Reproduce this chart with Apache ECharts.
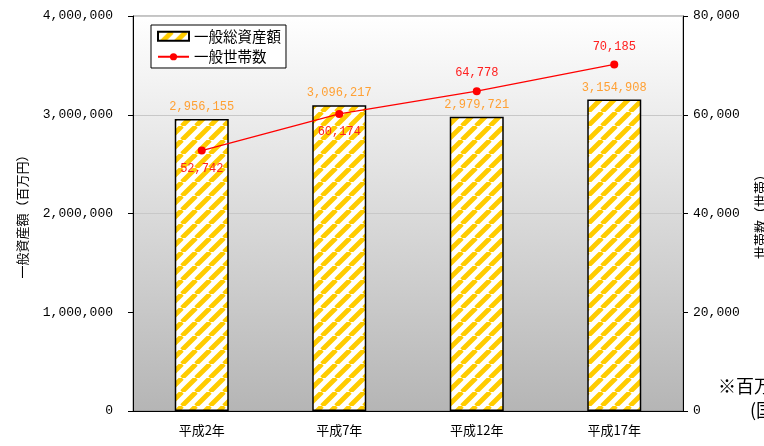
<!DOCTYPE html>
<html><head><meta charset="utf-8">
<script src="https://cdn.jsdelivr.net/npm/echarts@6/dist/echarts.min.js"></script>
<style>html,body{margin:0;padding:0;background:#fff}#c{width:764px;height:446px}</style>
</head><body><div id="c"></div>
<script>
var categories = ['平成2年', '平成7年', '平成12年', '平成17年'];
var assetValues = [2956155, 3096217, 2979721, 3154908];
var householdValues = [52742, 60174, 64778, 70185];
var householdLabelPos = ['bottom', 'bottom', 'top', 'top'];
var leftTicks = [0, 1000000, 2000000, 3000000, 4000000];
var rightTicks = [0, 20000, 40000, 60000, 80000];

function fmt(v){ return String(v).replace(/\B(?=(\d{3})+(?!\d))/g, ','); }

var T = 14;
var cv = document.createElement('canvas');
cv.width = T; cv.height = T;
var cx = cv.getContext('2d');
cx.fillStyle = '#ffffff'; cx.fillRect(0,0,T,T);
cx.strokeStyle = '#FFCC00'; cx.lineWidth = 4.8;
cx.beginPath();
for (var k = -2*T; k <= 2*T; k += T) { cx.moveTo(k, T); cx.lineTo(k + T, 0); }
cx.stroke();

var mono = '"Liberation Mono","DejaVu Sans Mono",monospace';
var cjk = '"Noto Sans CJK JP","Noto Sans",sans-serif';

var chart = echarts.init(document.getElementById('c'));
chart.setOption({
  animation: false,
  backgroundColor: '#ffffff',
  grid: {
    left: 133, right: 81, top: 16, bottom: 35,
    outerBoundsMode: 'none', containLabel: false,
    show: true, borderColor: '#888', borderWidth: 1,
    backgroundColor: new echarts.graphic.LinearGradient(0,0,0,1,[{offset:0,color:'#ffffff'},{offset:1,color:'#b5b5b5'}])
  },
  legend: {
    orient: 'vertical', left: 151, top: 25,
    backgroundColor: '#ffffff', borderColor: '#000', borderWidth: 1,
    padding: [4, 5, 4, 6], itemGap: 6, itemWidth: 31, itemHeight: 9,
    textStyle: {fontFamily: cjk, fontSize: 14.5, color: '#000'},
    data: [
      {name: '一般総資産額', icon: 'rect'},
      {name: '一般世帯数'}
    ]
  },
  xAxis: {
    type: 'category', data: categories,
    axisLine: {lineStyle: {color: '#000', width: 1}},
    axisTick: {inside: true, length: 5, lineStyle: {color: '#000'}},
    axisLabel: {fontFamily: cjk, fontSize: 13, color: '#000', margin: 13}
  },
  yAxis: [{
    type: 'value', min: 0, max: 4000000, interval: 1000000,
    name: '一般資産額（百万円）', nameLocation: 'middle', nameGap: 104, nameRotate: 90,
    nameTextStyle: {fontFamily: cjk, fontSize: 13, color: '#000'},
    axisLine: {show: true, lineStyle: {color: '#000'}},
    axisTick: {show: true, length: 5, lineStyle: {color: '#000'}},
    axisLabel: {fontFamily: mono, fontSize: 13, color: '#000', margin: 20,
      formatter: function(v){ return leftTicks.indexOf(v) >= 0 ? fmt(v) : ''; }},
    splitLine: {lineStyle: {color: '#c8c8c8'}}
  }, {
    type: 'value', min: 0, max: 80000, interval: 20000,
    name: '世帯数（世帯）', nameLocation: 'middle', nameGap: 71, nameRotate: 90,
    nameTextStyle: {fontFamily: cjk, fontSize: 13, color: '#000'},
    axisLine: {show: true, lineStyle: {color: '#000'}},
    axisTick: {show: true, length: 5, lineStyle: {color: '#000'}},
    axisLabel: {fontFamily: mono, fontSize: 13, color: '#000', margin: 10,
      formatter: function(v){ return rightTicks.indexOf(v) >= 0 ? fmt(v) : ''; }},
    splitLine: {show: false}
  }],
  series: [{
    name: '一般総資産額', type: 'bar', data: assetValues, barWidth: 54,
    itemStyle: {color: {image: cv, repeat: 'repeat'}, borderColor: '#000', borderWidth: 1.5},
    label: {show: true, position: 'top', distance: 6, color: '#FFA033', fontFamily: mono, fontSize: 12,
      formatter: function(p){ return fmt(p.value); }}
  }, {
    name: '一般世帯数', type: 'line', yAxisIndex: 1,
    data: householdValues.map(function(v, i){ return {value: v, label: {position: householdLabelPos[i]}}; }),
    symbol: 'circle', symbolSize: 8,
    lineStyle: {color: '#FF0000', width: 1.3},
    itemStyle: {color: '#FF0000'},
    label: {show: true, distance: 8, color: '#FF2020', fontFamily: mono, fontSize: 12,
      formatter: function(p){ return fmt(p.value); }}
  }],
  graphic: [
    {type: 'text', left: 718, top: 377, style: {text: '※百万円未満切捨て', font: '18px ' + cjk, fill: '#000'}},
    {type: 'text', left: 750, top: 401, style: {text: '(国土交通省)', font: '18px ' + cjk, fill: '#000'}}
  ]
});
</script></body></html>
